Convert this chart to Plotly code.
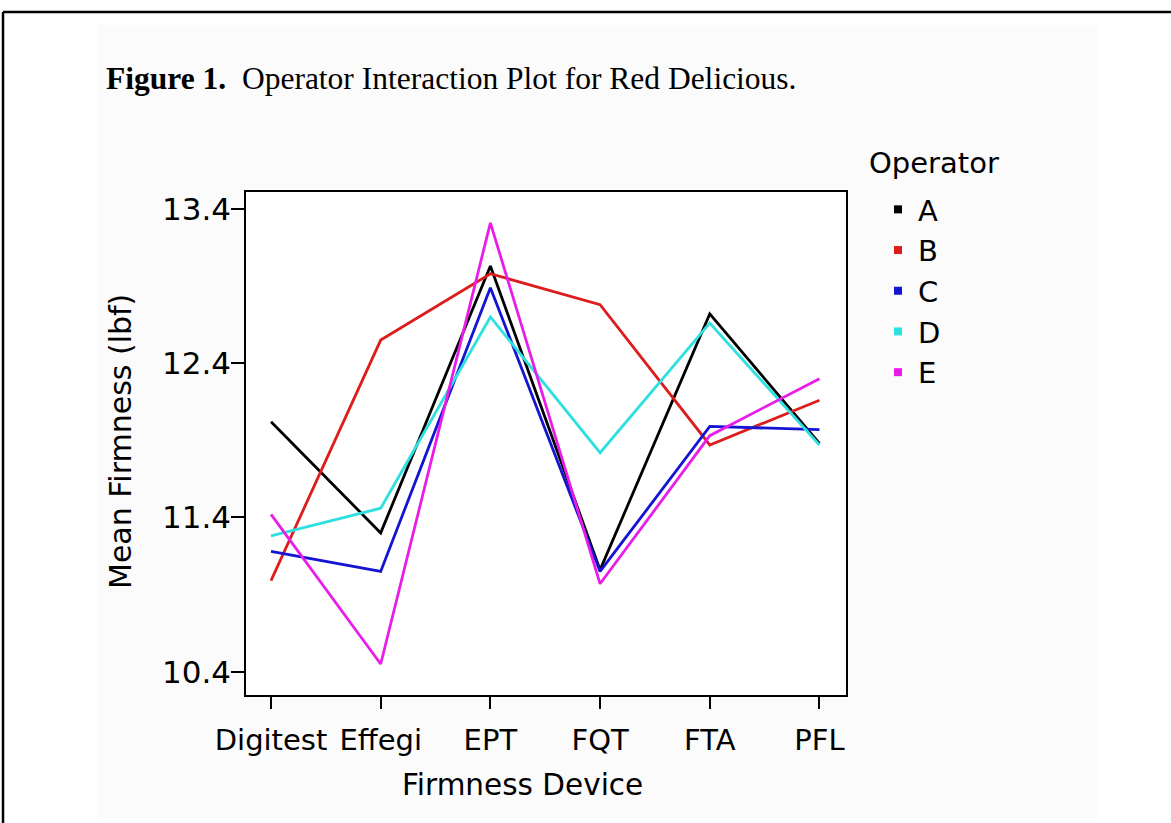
import plotly.graph_objects as go

# ---- data ----
devices = ["Digitest", "Effegi", "EPT", "FQT", "FTA", "PFL"]
operators = ["A", "B", "C", "D", "E"]
op_A = [12.02, 11.30, 13.03, 11.06, 12.72, 11.88]
op_B = [10.99, 12.55, 12.98, 12.78, 11.87, 12.16]
op_C = [11.18, 11.05, 12.89, 11.05, 11.99, 11.97]
op_D = [11.28, 11.46, 12.70, 11.82, 12.66, 11.87]
op_E = [11.42, 10.45, 13.31, 10.97, 11.93, 12.30]
series = [op_A, op_B, op_C, op_D, op_E]
colors = ["#000000", "#dd1c1c", "#1414d2", "#2fe0e0", "#e81ee8"]
y_ticks = [10.4, 11.4, 12.4, 13.4]

W, H = 1171, 823
L, R, T, B = 246, 846, 192, 695  # plot box in pixels


def px(x):
    return (x - L) / (R - L)


def py(y):
    return (B - y) / (B - T)


fig = go.Figure()

for name, vals, col in zip(operators, series, colors):
    fig.add_trace(go.Scatter(
        x=devices, y=vals, mode="lines", name=name,
        line=dict(color=col, width=2.8), showlegend=False,
    ))
# legend entries as small squares
for name, col in zip(operators, colors):
    fig.add_trace(go.Scatter(
        x=[None], y=[None], mode="markers", name=name,
        marker=dict(color=col, size=8, symbol="square"),
        showlegend=True,
    ))

font_main = "DejaVu Sans, Liberation Sans, Arial, sans-serif"

shapes = [
    # light panel of the embedded figure
    dict(type="rect", xref="paper", yref="paper", x0=px(97), x1=px(1098), y0=py(818), y1=py(25),
         fillcolor="#fbfbfb", line=dict(width=0), layer="below"),
    dict(type="rect", xref="paper", yref="paper", x0=0, x1=1, y0=0, y1=1,
         fillcolor="#ffffff", line=dict(width=0), layer="below"),
    # outer page frame
    dict(type="line", xref="paper", yref="paper", x0=px(3), x1=px(1171), y0=py(12), y1=py(12),
         line=dict(color="black", width=2.5)),
    dict(type="line", xref="paper", yref="paper", x0=px(3), x1=px(3), y0=py(12), y1=py(823),
         line=dict(color="black", width=2.5)),
]

annotations = [
    dict(text="<b>Figure 1.</b>\u00a0\u00a0Operator Interaction Plot for Red Delicious.",
         xref="paper", yref="paper", x=px(104), y=py(78), xanchor="left", yanchor="middle",
         showarrow=False, font=dict(family="Liberation Serif, Times New Roman, serif", size=31.5, color="black")),
    dict(text="Mean Firmness (lbf)", textangle=-90,
         xref="paper", yref="paper", x=px(120), y=py(442), xanchor="center", yanchor="middle",
         showarrow=False, font=dict(family=font_main, size=30, color="black")),
    dict(text="Firmness Device",
         xref="paper", yref="paper", x=px(522), y=py(785), xanchor="center", yanchor="middle",
         showarrow=False, font=dict(family=font_main, size=29.5, color="black")),
    dict(text="Operator",
         xref="paper", yref="paper", x=px(867), y=py(163), xanchor="left", yanchor="middle",
         showarrow=False, font=dict(family=font_main, size=29, color="black")),
]

fig.update_layout(
    width=W, height=H, autosize=False,
    margin=dict(l=L, r=W - R, t=T, b=H - B, autoexpand=False),
    paper_bgcolor="white", plot_bgcolor="white",
    font=dict(family=font_main, size=29, color="black"),
    shapes=shapes, annotations=annotations,
    legend=dict(x=px(878), y=py(184), xanchor="left", yanchor="top",
                bgcolor="rgba(0,0,0,0)", borderwidth=0,
                font=dict(family=font_main, size=29, color="black")),
)
fig.update_xaxes(
    type="category", categoryorder="array", categoryarray=devices,
    range=[-0.228, 5.242], showgrid=False, zeroline=False,
    showline=True, mirror=True, linecolor="black", linewidth=1.5,
    ticks="outside", ticklen=12, tickwidth=1.5, tickcolor="black",
    ticklabelstandoff=6,
    tickfont=dict(family=font_main, size=29, color="black"),
)
fig.update_yaxes(
    range=[10.249, 13.51], tickvals=y_ticks, ticktext=[f"{v:.1f}" for v in y_ticks],
    showgrid=False, zeroline=False,
    showline=True, mirror=True, linecolor="black", linewidth=1.5,
    ticks="outside", ticklen=13, tickwidth=1.5, tickcolor="black",
    ticklabelstandoff=-6,
    tickfont=dict(family=font_main, size=31, color="black"),
)

fig.write_html("out.html", config={"displayModeBar": False},
               post_script="document.body.style.margin='0';")
